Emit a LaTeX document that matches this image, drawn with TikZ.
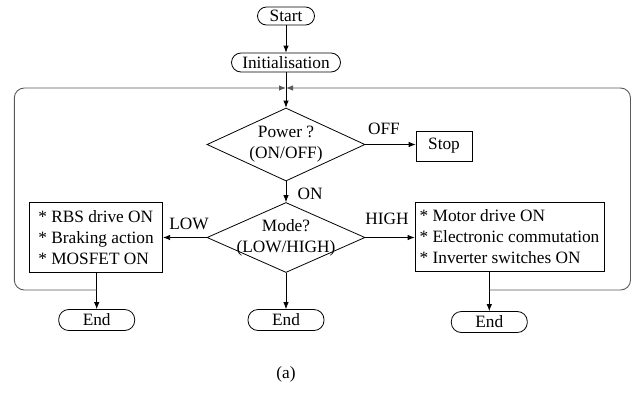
\documentclass[tikz,border=0pt]{standalone}
\usepackage{fontspec}
\setmainfont{Liberation Serif}
\usetikzlibrary{arrows.meta,shapes.geometric,calc}
\begin{document}
\begin{tikzpicture}[x=1pt,y=-1pt,
  font=\fontsize{17.3}{21}\selectfont,
  line width=0.8pt,
  tip/.style={-{Latex[length=7pt,width=5.5pt]}},
  capsule/.style={draw,rounded corners=9.5pt,minimum height=20pt,inner sep=0pt},
  dia/.style={draw,diamond,inner sep=0pt,minimum width=158pt,minimum height=#1},
  boxx/.style={draw,rectangle,inner sep=0pt,align=left},
  lbl/.style={inner sep=0pt},
  loopline/.style={draw=black!65,line width=0.9pt,rounded corners=10pt,-{Latex[length=7pt,width=5.5pt]}}]
\useasboundingbox (0,0) rectangle (636,392);

\node[capsule,minimum width=57pt,minimum height=18pt,rounded corners=9pt] (start) at (286,16) {Start};
\node[capsule,minimum width=109pt,minimum height=19pt] (init) at (286,62.5) {Initialisation};
\coordinate (jn) at (286,88);

\node[dia=73pt] (power) at (286,144.5) {};
\node[lbl,align=center] (powert) at (power) {Power ?\\(ON/OFF)};
\node[draw,rectangle,minimum width=56pt,minimum height=30pt,inner sep=0pt] (stop) at (444,146) {Stop};
\node[lbl] (off) at (384,129) {OFF};
\node[lbl] (on) at (310,194) {ON};

\node[dia=70pt] (mode) at (286,237.5) {};
\node[lbl,align=center] (modet) at (mode) {Mode?\\(LOW/HIGH)};

\node[boxx,minimum width=133.4pt,minimum height=70.4pt] (lbox) at (96,237.5)
  {* RBS drive ON\\* Braking action\\* MOSFET ON};
\node[boxx,minimum width=189pt,minimum height=69.4pt] (rbox) at (509.5,237)
  {* Motor drive ON\\* Electronic commutation\\* Inverter switches ON};
\node[lbl] (low) at (189,224) {LOW};
\node[lbl] (high) at (387,219) {HIGH};

\node[capsule,minimum width=76pt,minimum height=21pt,rounded corners=10pt] (lend) at (96.7,320) {End};
\node[capsule,minimum width=76pt,minimum height=21pt,rounded corners=10pt] (cend) at (286,320) {End};
\node[capsule,minimum width=76pt,minimum height=21pt,rounded corners=10pt] (rend) at (489.3,322) {End};

\node[lbl] (cap) at (286,374) {(a)};

\coordinate (lj) at (96.7,290);
\coordinate (rj) at (489.3,290);

% main flow
\draw[tip] (start) -- (init);
\draw[tip] (init) -- (power.north);
\draw[tip] (power.east) -- (stop.west |- power.east);
\draw[tip] (power.south) -- (mode.north);
\draw[tip] (mode.west) -- (lbox.east |- mode.west);
\draw[tip] (mode.east) -- (rbox.west |- mode.east);
\draw[tip] (mode.south) -- (cend.north);
\draw[tip] (lend.north |- lbox.south) -- (lend.north);
\draw[tip] (rend.north |- rbox.south) -- (rend.north);

% feedback loops
\draw[loopline] (lj) -- (14.3,290) -- (14.3,88) -- (jn);
\draw[loopline] (rj) -- (630.5,290) -- (630.5,88) -- (jn);
\end{tikzpicture}
\end{document}
